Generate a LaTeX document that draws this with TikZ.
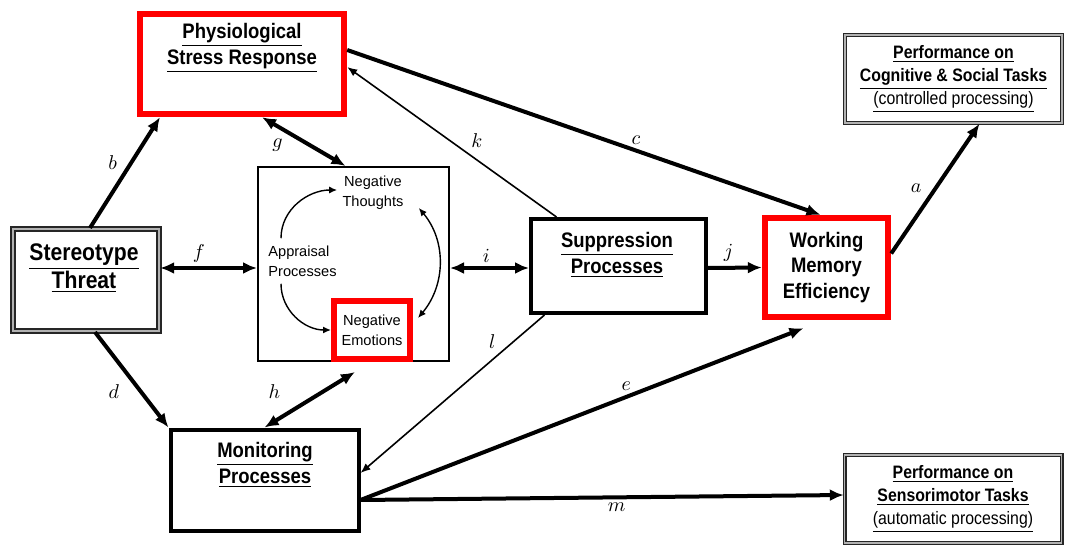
\documentclass[tikz,border=0pt]{standalone}
\usepackage{fontspec}
\usetikzlibrary{arrows.meta}
\newfontfamily\headfont[FakeStretch=0.88]{Liberation Sans}
\newfontfamily\innerfont{Liberation Sans}
\tikzset{
	plainbox/.style={draw, rectangle, inner sep=0pt}, % outlined box, size set per node
	redbox/.style={plainbox, draw=red, line width=3.2pt}, % highlighted boxes
	heavybox/.style={plainbox, line width=2pt}, % the two process boxes
	dblbox/.style={plainbox, draw=black!85, double=black!30, line width=1.1pt, double distance=0.8pt},
	thindbl/.style={plainbox, draw=black!85, double=black!30, line width=0.7pt, double distance=0.6pt},
	title/.style={align=center, inner sep=0pt, font=\headfont\bfseries\fontsize{10.5}{13}\selectfont},
	smalltitle/.style={align=center, inner sep=0pt, font=\headfont\bfseries\fontsize{9}{11.5}\selectfont},
	inner/.style={align=center, inner sep=0pt, font=\innerfont\fontsize{7.3}{10}\selectfont},
	link/.style={-{Latex[length=7pt,width=6pt]}, line width=2pt}, % thick one way arrow
	twolink/.style={{Latex[length=7pt,width=6pt]}-{Latex[length=7pt,width=6pt]}, line width=2pt},
	thinlink/.style={-{Latex[length=5pt,width=4pt]}, line width=0.8pt},
	loop link/.style={-{Latex[length=4pt,width=3.5pt]}, line width=0.7pt}, % arrows inside the appraisal box
	lbl/.style={font=\fontsize{10}{12}\selectfont, inner sep=2pt}, % path letters
}

\begin{document}
\begin{tikzpicture}[x=0.5pt, y=0.5pt]
	\path[use as bounding box, fill=white] (0,0) rectangle (1067,548);

	% boxes
	\node[dblbox, minimum width=73pt, minimum height=51pt] (st) at (86,268) {};
	\node[title, font=\headfont\bfseries\fontsize{12}{14}\selectfont] (stt) at (84,280) {\underline{Stereotype}\\\underline{Threat}};
	\node[redbox, minimum width=102pt, minimum height=50pt] (psr) at (242,484) {};
	\node[title] (psrt) at (242,500) {\underline{Physiological}\\\underline{Stress Response}};
	\node[plainbox, line width=1pt, minimum width=95.5pt, minimum height=97pt] (app) at (353.5,284) {};
	\node[inner, align=left, anchor=west] (ap) at (268,287) {Appraisal\\Processes};
	\node[inner] (nt) at (373,355) {Negative\\Thoughts};
	\node[redbox, inner, line width=3pt, minimum width=38pt, minimum height=29pt] (ne) at (372,218) {Negative\\Emotions};
	\node[heavybox, minimum width=87.5pt, minimum height=47pt] (sp) at (618.5,282) {};
	\node[title] (spt) at (617,293.5) {\underline{Suppression}\\\underline{Processes}};
	\node[redbox, title, font=\headfont\bfseries\fontsize{10.5}{12.75}\selectfont, minimum width=61.5pt, minimum height=49.5pt] (wm) at (826.5,280.5) {Working\\Memory\\Efficiency};
	\node[heavybox, minimum width=94pt, minimum height=50.5pt] (mp) at (264.5,68) {};
	\node[title] (mpt) at (265,83.5) {\underline{Monitoring}\\\underline{Processes}};
	\node[thindbl, smalltitle, minimum width=108.5pt, minimum height=44pt] (pc) at (953.5,469) {\underline{Performance on}\\\underline{Cognitive \& Social Tasks}\\{\mdseries\underline{(controlled processing)}}};
	\node[thindbl, smalltitle, minimum width=108.5pt, minimum height=44pt] (ps) at (953,49) {\underline{Performance on}\\\underline{Sensorimotor Tasks}\\{\mdseries\underline{(automatic processing)}}};

	% inside the appraisal box
	\draw[loop link] ([xshift=6.5pt,yshift=3.5pt]ap.north west) to[out=90,in=180] ([xshift=-2.5pt,yshift=1.5pt]nt.west);
	\draw[loop link] ([xshift=6.5pt,yshift=-3.5pt]ap.south west) to[out=-90,in=180] (ne.west);
	\draw[loop link, {Latex[length=4pt,width=3.5pt]}-{Latex[length=4pt,width=3.5pt]}] ([xshift=7.5pt,yshift=-7.5pt]nt.east) to[out=-50,in=50] ([xshift=2.5pt,yshift=-10pt]ne.north east);

	% paths
	\draw ([xshift=2pt]st.north) edge[link] node[lbl,above left,pos=.47]{$b$} ([xshift=-41pt]psr.south)
		([xshift=4.5pt]st.south) edge[link] node[lbl,below left,xshift=-3pt,pos=.49]{$d$} (mp.north west)
		([yshift=6pt]st.east) edge[twolink] node[lbl,above,pos=.4]{$f$} ([yshift=-2pt]app.west)
		([xshift=10pt]psr.south) edge[twolink] node[lbl,below left,pos=.32]{$g$} ([xshift=-4pt]app.north)
		(mp.north) edge[twolink] node[lbl,above left,yshift=5pt,pos=.24]{$h$} ([xshift=-8.5pt,yshift=-5pt]ne.south)
		([yshift=-2pt]app.east) edge[twolink] node[lbl,above,pos=.46]{$i$} ([yshift=-1pt]sp.west)
		([yshift=-1pt]sp.east) edge[link] node[lbl,above,pos=.38]{$j$} (wm.west)
		([yshift=7pt]psr.east) edge[link] node[lbl,above,pos=.61]{$c$} ([xshift=-3pt]wm.north)
		([xshift=-31pt]sp.north) edge[thinlink] node[lbl,above right,pos=.43]{$k$} ([yshift=-1.5pt]psr.east)
		([xshift=-37pt]sp.south) edge[thinlink] node[lbl,above left,pos=.24]{$l$} ([yshift=3.5pt]mp.east)
		([yshift=-10pt]mp.east) edge[link] node[lbl,above,pos=.6]{$e$} ([xshift=-11.5pt,yshift=-4pt]wm.south)
		([yshift=-10pt]mp.east) edge[link] node[lbl,below,pos=.53]{$m$} ([yshift=2pt]ps.west)
		([yshift=7pt]wm.east) edge[link] node[lbl,left=4pt,pos=.5]{$a$} ([xshift=13pt]pc.south);
\end{tikzpicture}
\end{document}
